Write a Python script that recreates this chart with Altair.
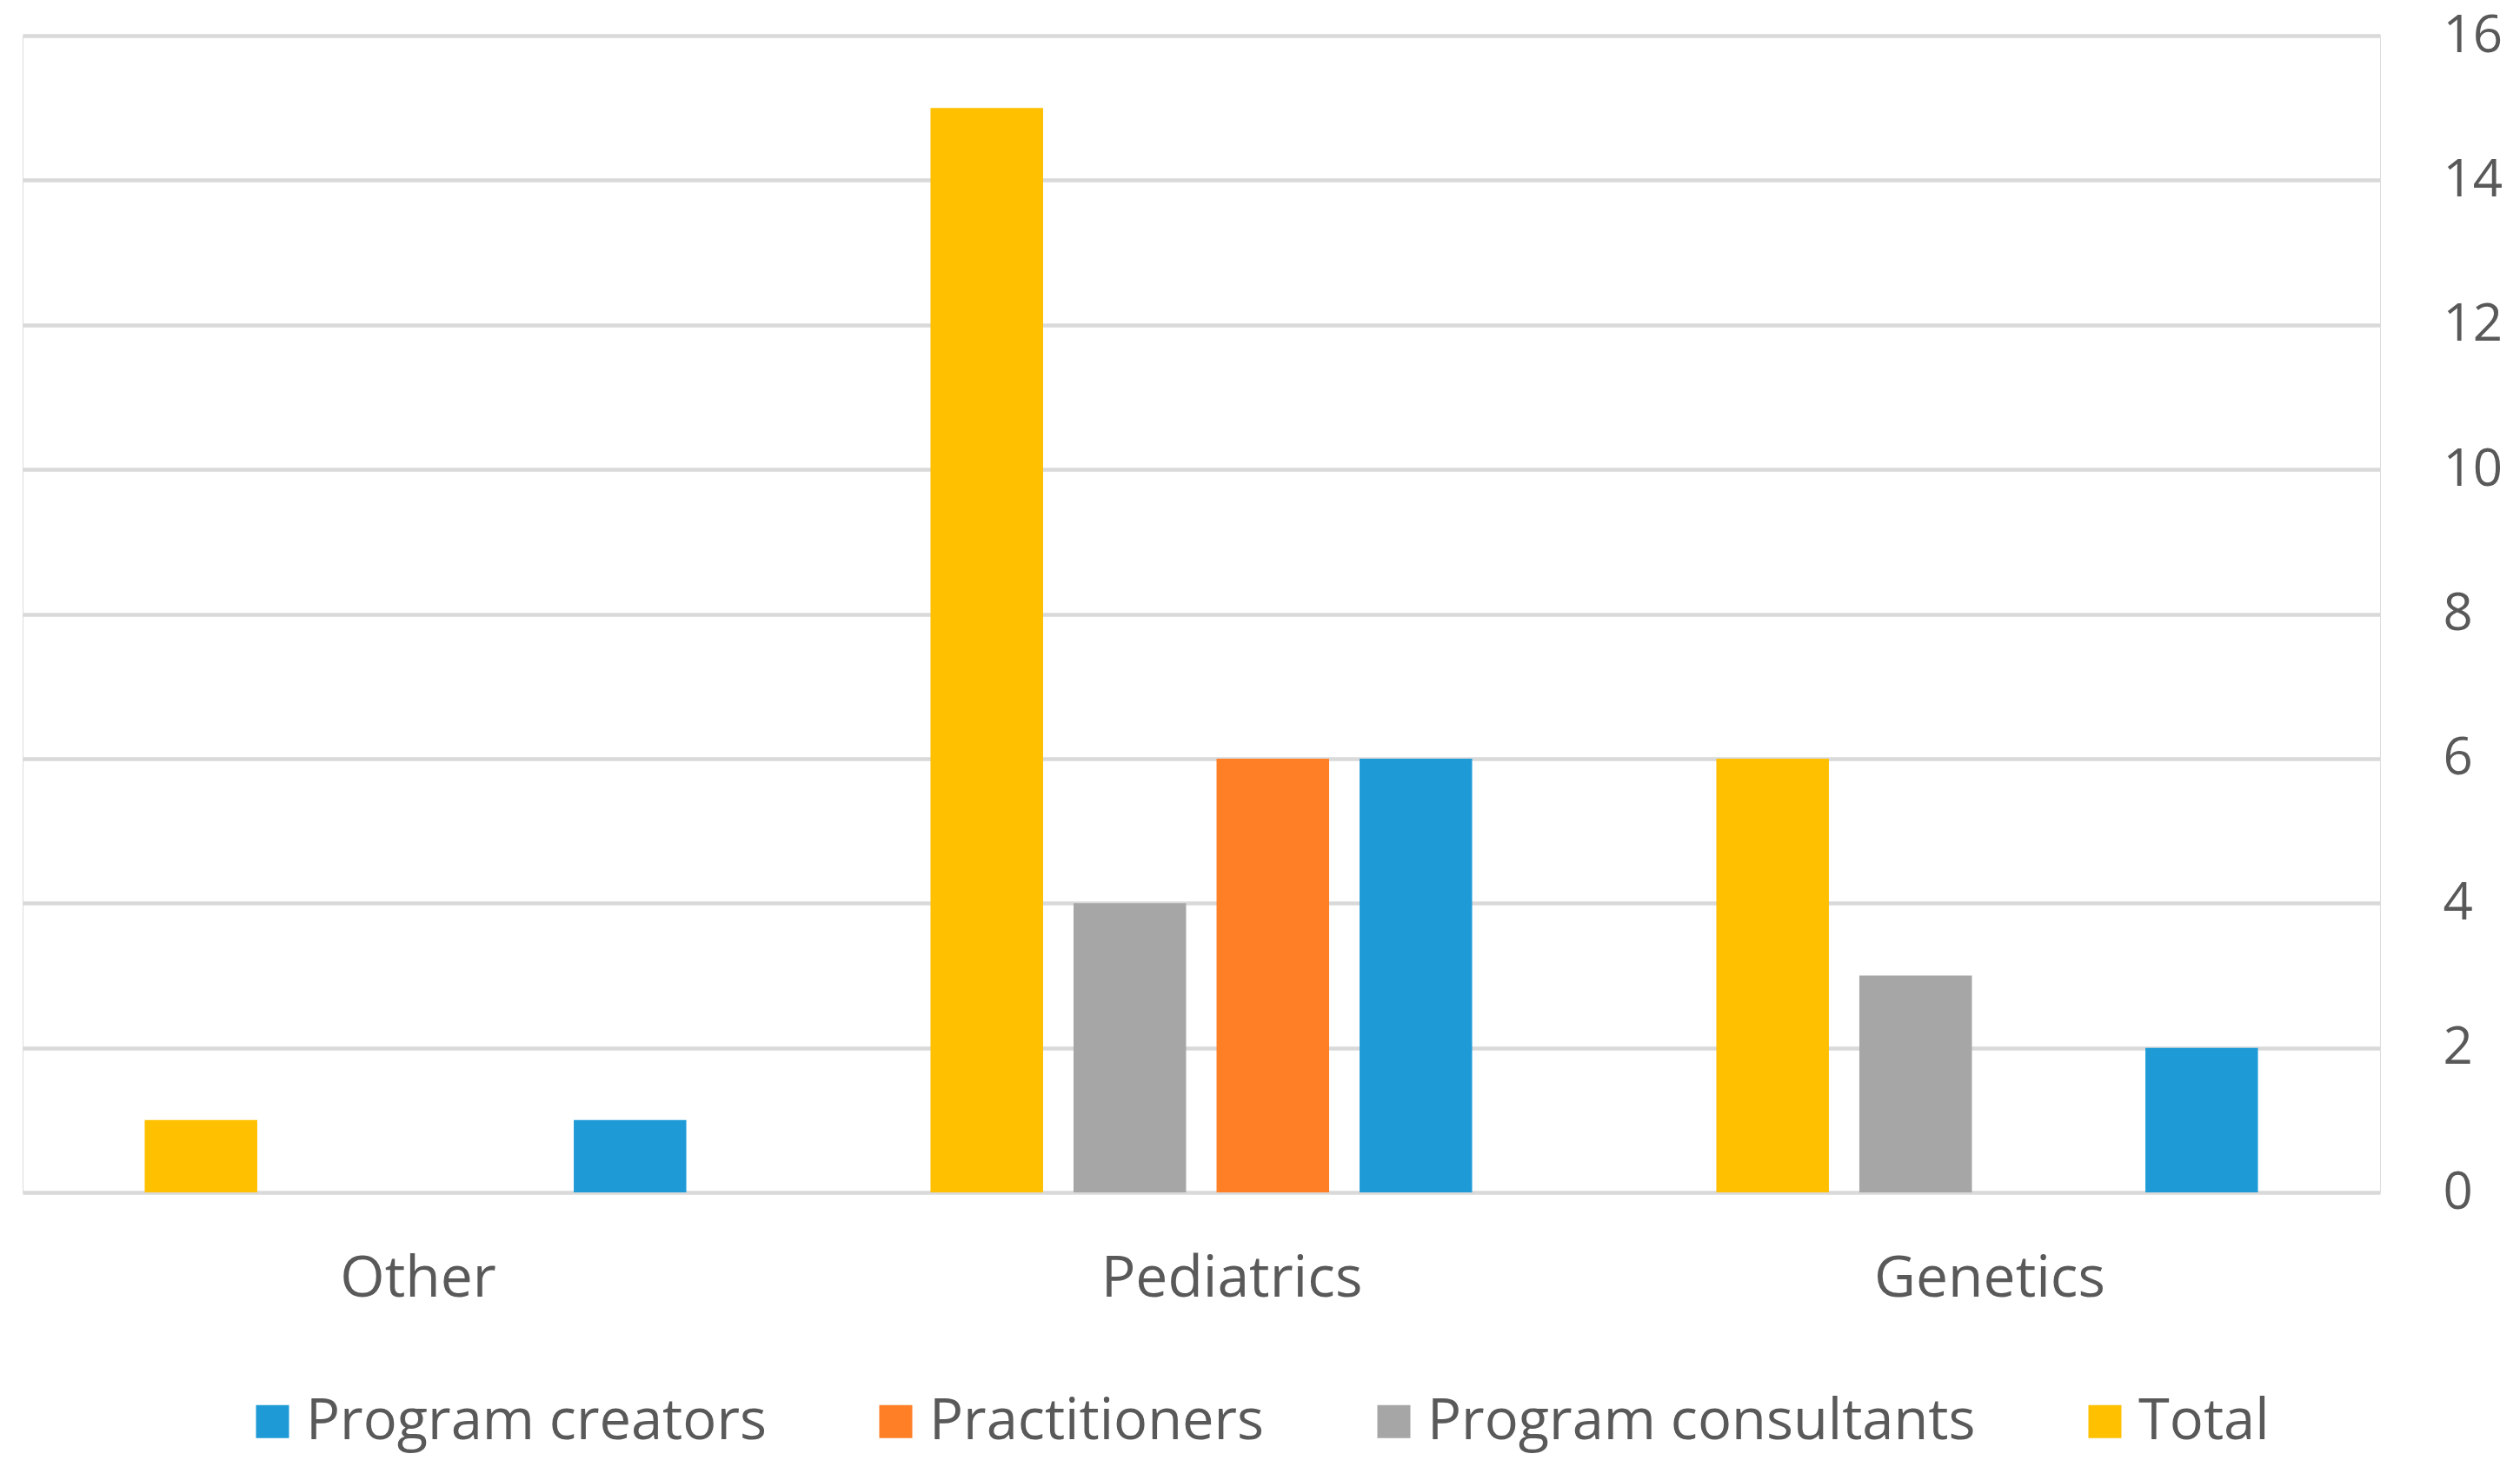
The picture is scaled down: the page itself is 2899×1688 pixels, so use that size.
import altair as alt
import pandas as pd

categories = ["Other", "Pediatrics", "Genetics"]
series_order = ["Total", "Program consultants", "Practitioners", "Program creators"]
legend_order = ["Program creators", "Practitioners", "Program consultants", "Total"]
legend_colors = ["#1E9BD7", "#FF7F27", "#A6A6A6", "#FFC000"]

total = [1, 15, 6]
program_consultants = [0, 4, 3]
practitioners = [0, 6, 0]
program_creators = [1, 6, 2]

y_ticks = [0, 2, 4, 6, 8, 10, 12, 14, 16]

values = {
    "Total": total,
    "Program consultants": program_consultants,
    "Practitioners": practitioners,
    "Program creators": program_creators,
}
rows = []
for s in series_order:
    for c, v in zip(categories, values[s]):
        rows.append({"category": c, "series": s, "value": v})
df = pd.DataFrame(rows)

label_color = "#595959"

chart = (
    alt.Chart(df)
    .mark_bar()
    .encode(
        x=alt.X(
            "category:N",
            sort=categories,
            scale=alt.Scale(domain=categories, paddingInner=0.272, paddingOuter=0.136),
            axis=alt.Axis(
                title=None,
                labelAngle=0,
                domain=False,
                ticks=False,
                tickSize=0,
                labelFont="Open Sans",
                labelFontSize=66,
                labelColor=label_color,
                labelPadding=67,
                labelLimit=1000,
                labelOffset={"condition": {"test": "datum.value == 'Pediatrics'", "value": 35}, "value": 3},
                grid=False,
            ),
        ),
        xOffset=alt.XOffset(
            "series:N",
            sort=series_order,
            scale=alt.Scale(domain=series_order, paddingInner=0.213, paddingOuter=0.1065),
        ),
        y=alt.Y(
            "value:Q",
            scale=alt.Scale(domain=[0, 16], nice=False),
            axis=alt.Axis(
                orient="right",
                title=None,
                values=y_ticks,
                domain=False,
                ticks=False,
                tickSize=0,
                labelFont="Open Sans",
                labelFontSize=60,
                labelColor=label_color,
                labelAlign="left",
                labelPadding=72,
                grid=True,
                gridColor="#D9D9D9",
                gridWidth=4.5,
            ),
        ),
        color=alt.Color(
            "series:N",
            scale=alt.Scale(domain=legend_order, range=legend_colors),
            legend=alt.Legend(
                title=None,
                orient="none",
                legendX=255,
                legendY=1562,
                direction="horizontal",
                symbolType="square",
                symbolSize=1444,
                symbolStrokeWidth=0,
                labelFont="Open Sans",
                labelFontSize=65,
                labelColor=label_color,
                labelOffset=6,
                labelLimit=1000,
                columnPadding=116,
                padding=0,
            ),
        ),
    )
    .properties(
        width=2712,
        height=1331,
        autosize=alt.AutoSizeParams(type="none"),
        padding={"left": 18, "top": 33, "right": 150, "bottom": 304},
    )
    .configure_view(stroke=None)
    .configure(background="white")
)

chart.save("out.html", embed_options={"renderer": "svg", "actions": False})
